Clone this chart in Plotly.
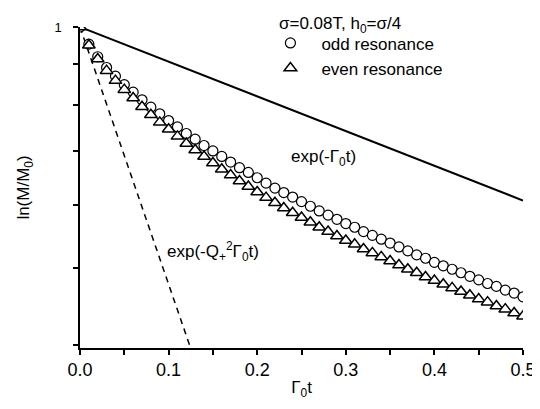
import plotly.graph_objects as go

# Gamma_0 t sample points for the simulated resonances
t_points = [0.00, 0.01, 0.02, 0.03, 0.04, 0.05, 0.06, 0.07, 0.08, 0.09,
            0.10, 0.11, 0.12, 0.13, 0.14, 0.15, 0.16, 0.17, 0.18, 0.19,
            0.20, 0.21, 0.22, 0.23, 0.24, 0.25, 0.26, 0.27, 0.28, 0.29,
            0.30, 0.31, 0.32, 0.33, 0.34, 0.35, 0.36, 0.37, 0.38, 0.39,
            0.40, 0.41, 0.42, 0.43, 0.44, 0.45, 0.46, 0.47, 0.48, 0.49, 0.50]

# M/M0 (log axis)
odd_resonance = [1.000, 0.952, 0.918, 0.890, 0.868, 0.847, 0.829, 0.811, 0.794, 0.779,
                 0.764, 0.750, 0.736, 0.724, 0.711, 0.700, 0.689, 0.678, 0.667, 0.658,
                 0.648, 0.638, 0.629, 0.621, 0.613, 0.605, 0.597, 0.589, 0.582, 0.575,
                 0.568, 0.562, 0.555, 0.549, 0.543, 0.537, 0.531, 0.525, 0.519, 0.514,
                 0.508, 0.503, 0.498, 0.493, 0.488, 0.483, 0.478, 0.474, 0.469, 0.465, 0.460]

even_resonance = [1.000, 0.949, 0.912, 0.882, 0.857, 0.835, 0.815, 0.795, 0.777, 0.760,
                  0.745, 0.730, 0.715, 0.702, 0.689, 0.676, 0.664, 0.653, 0.642, 0.632,
                  0.622, 0.612, 0.603, 0.594, 0.586, 0.578, 0.570, 0.562, 0.555, 0.548,
                  0.541, 0.535, 0.528, 0.522, 0.516, 0.510, 0.504, 0.498, 0.493, 0.487,
                  0.482, 0.477, 0.472, 0.467, 0.462, 0.457, 0.453, 0.448, 0.444, 0.439, 0.435]

# reference exponentials (straight lines on a log axis)
exp_g0_t = [0.0, 0.5]
exp_g0_y = [1.0, 0.607]
exp_q_t = [0.0, 0.13]
exp_q_y = [1.0, 0.382]

x_ticks = [0.0, 0.1, 0.2, 0.3, 0.4, 0.5]
x_tick_labels = ["0.0", "0.1", "0.2", "0.3", "0.4", "0.5"]
x_minor_ticks = [0.05, 0.15, 0.25, 0.35, 0.45]
y_ticks = [0.4, 0.5, 0.6, 0.7, 0.8, 0.9, 1.0]
y_tick_labels = ["", "", "", "", "", "", "1"]

FONT = "Arial, Liberation Sans, Helvetica, sans-serif"

fig = go.Figure()

fig.add_trace(go.Scatter(x=exp_g0_t, y=exp_g0_y, mode="lines",
                         line=dict(color="black", width=2), showlegend=False))
fig.add_trace(go.Scatter(x=exp_q_t, y=exp_q_y, mode="lines",
                         line=dict(color="black", width=1.5, dash="6px,5px"), showlegend=False))

fig.add_trace(go.Scatter(x=t_points, y=odd_resonance, mode="markers",
                         name="odd resonance",
                         marker=dict(symbol="circle", size=10, color="white",
                                     line=dict(color="black", width=1.2))))
fig.add_trace(go.Scatter(x=t_points, y=even_resonance, mode="markers",
                         name="even resonance",
                         marker=dict(symbol="triangle-up", size=11, color="white",
                                     line=dict(color="black", width=1.5))))

fig.update_layout(
    width=540, height=409,
    margin=dict(l=72, r=23, t=15, b=69),
    paper_bgcolor="white", plot_bgcolor="white",
    font=dict(family=FONT, color="black", size=17),
    showlegend=True,
    legend=dict(x=0.405, y=1.005, xanchor="left", yanchor="top",
                bgcolor="rgba(0,0,0,0)", font=dict(size=17), itemwidth=52,
                tracegroupgap=0),
    xaxis=dict(range=[0, 0.5], tickvals=x_ticks, ticktext=x_tick_labels,
               showline=True, linecolor="black", linewidth=1.5, mirror=False,
               ticks="outside", ticklen=5, tickwidth=1.5, tickcolor="black",
               showgrid=False, zeroline=False, tickfont=dict(size=18),
               minor=dict(tickvals=x_minor_ticks, ticks="outside",
                          ticklen=5, tickwidth=1.5, tickcolor="black"),
               title=dict(text="Γ<sub>0</sub>t", font=dict(size=17), standoff=2)),
    yaxis=dict(type="log", range=[-0.4012, 0.0], tickvals=y_ticks, ticktext=y_tick_labels,
               showline=True, linecolor="black", linewidth=1.5, mirror=False,
               ticks="outside", ticklen=5, tickwidth=1.5, tickcolor="black",
               ticklabelstandoff=9,
               showgrid=False, zeroline=False, tickfont=dict(size=13),
               title=dict(text="ln(M/M<sub>0</sub>)", font=dict(size=17), standoff=20)),
    annotations=[
        dict(text="σ=0.08T, h<sub>0</sub>=σ/4", xref="paper", yref="paper",
             x=0.445, y=1.005, xanchor="left", yanchor="middle", showarrow=False,
             font=dict(size=17)),
        dict(text="exp(-Γ<sub>0</sub>t)", xref="paper", yref="paper",
             x=0.472, y=0.591, xanchor="left", yanchor="middle", showarrow=False,
             font=dict(size=17)),
        dict(text="exp(-Q<sub>+</sub><sup>2</sup>Γ<sub>0</sub>t)", xref="paper", yref="paper",
             x=0.191, y=0.3015, xanchor="left", yanchor="middle", showarrow=False,
             font=dict(size=17)),
    ],
)

fig.write_html("out.html")
